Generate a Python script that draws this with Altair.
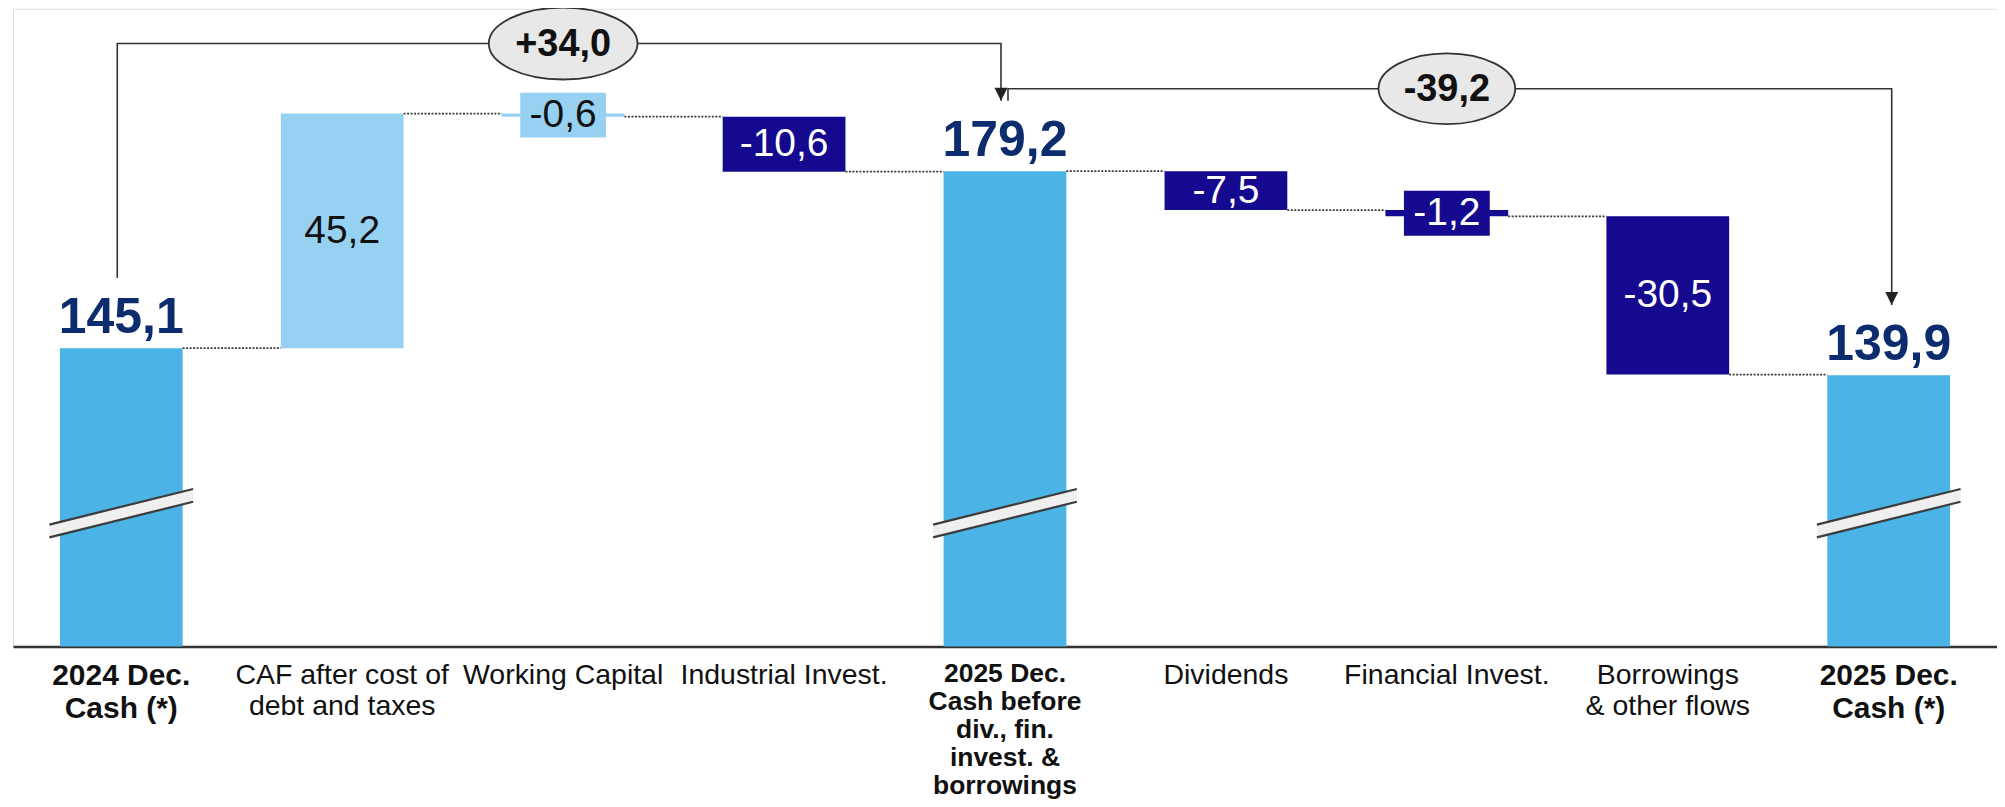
import json
import altair as alt
import pandas as pd

# ---------------- data ----------------
categories = [
    "2024 Dec.|Cash (*)",
    "CAF after cost of|debt and taxes",
    "Working Capital",
    "Industrial Invest.",
    "2025 Dec.|Cash before|div., fin.|invest. &|borrowings",
    "Dividends",
    "Financial Invest.",
    "Borrowings|& other flows",
    "2025 Dec.|Cash (*)",
]
values = [145.1, 45.2, -0.6, -10.6, 179.2, -7.5, -1.2, -30.5, 139.9]
is_total = [True, False, False, False, True, False, False, False, True]
boxed = [False, False, True, False, False, False, True, False, False]

TOTAL_C = "#4BB3E6"
LIGHT_C = "#97D1F1"
DARK_C = "#15098F"
bar_colors = [TOTAL_C, LIGHT_C, LIGHT_C, DARK_C, TOTAL_C, DARK_C, DARK_C, DARK_C, TOTAL_C]
text_colors = ["#0C2C6E", "#111111", "#111111", "#FFFFFF", "#0C2C6E",
               "#FFFFFF", "#FFFFFF", "#FFFFFF", "#0C2C6E"]

axis_floor = 87.6      # value at the broken baseline
axis_top = 210.5
break_level = 113.3    # level of the axis-break marks on the total bars

bracket_from = [0, 4]
bracket_to = [4, 8]
bracket_start = [158.6, 192.8]
bracket_level = [203.8, 195.1]
bracket_end = [192.8, 153.4]
bracket_deltas = [34.0, -39.2]
bracket_label_at = [2, 6]


def fmt(v, sign=False):
    s = f"{v:+.1f}" if sign else f"{v:.1f}"
    return s.replace(".", ",")


rows = []
levels = []
running = 0.0
for i, (cat, v, tot) in enumerate(zip(categories, values, is_total)):
    if tot:
        start, end = 0.0, v
        running = v
    else:
        start, end = running, running + v
        running = end
    levels.append(running)
    rows.append({
        "cat": cat, "start": start, "end": end, "mid": (start + end) / 2,
        "total": tot, "boxed": boxed[i], "label": fmt(v),
        "color": bar_colors[i], "tcolor": text_colors[i],
    })
bars_df = pd.DataFrame(rows)

conn_df = pd.DataFrame({"a": categories[:-1], "b": categories[1:], "lvl": levels[:-1]})

br_rows = []
for k in range(2):
    a = categories[bracket_from[k]]
    b = categories[bracket_to[k]]
    pts = [(a, bracket_start[k]), (a, bracket_level[k]),
           (b, bracket_level[k]), (b, bracket_end[k])]
    for s, (c, y) in enumerate(pts):
        br_rows.append({"bid": k, "seq": s, "cat": c, "y": y})
br_df = pd.DataFrame(br_rows)

arrow_df = pd.DataFrame({
    "bid": [0, 1],
    "cat": [categories[j] for j in bracket_to],
    "y": bracket_end,
})
ell_df = pd.DataFrame({
    "bid": [0, 1],
    "cat": [categories[j] for j in bracket_label_at],
    "y": bracket_level,
    "text": [fmt(d, sign=True) for d in bracket_deltas],
})
break_df = pd.DataFrame({
    "cat": [c for c, t in zip(categories, is_total) if t],
    "y": [break_level] * sum(is_total),
})

# ---------------- scales / axes ----------------
FONT = "Liberation Sans"
total_cats = [categories[0], categories[8]]
test_total = "indexof(" + json.dumps(total_cats) + ", datum.value) >= 0"
test_mid = "datum.value === " + json.dumps(categories[4])

x_scale = alt.Scale(domain=categories, paddingInner=0.4444, paddingOuter=0.2123)
y_scale = alt.Scale(domain=[axis_floor, axis_top], nice=False, zero=False, clamp=True)

x_axis = alt.Axis(
    title=None,
    labelExpr="split(datum.label, '|')",
    labelAngle=0,
    labelAlign="center",
    labelBaseline="top",
    labelPadding=14,
    ticks=False,
    tickSize=0,
    grid=False,
    domainColor="#333333",
    domainWidth=2.5,
    labelColor="#111111",
    labelFont=FONT,
    labelFontSize={"condition": [{"test": test_mid, "value": 26.5},
                                 {"test": test_total, "value": 30}],
                   "value": 28.5},
    labelFontWeight={"condition": {"test": test_total + " || " + test_mid, "value": "bold"},
                     "value": "normal"},
    labelLineHeight={"expr": f"({test_mid}) ? 28 : (({test_total}) ? 33 : 31)"},
    labelLimit=0,
    labelOverlap=False,
)


def xe(field, **kw):
    return alt.X(field, type="nominal", scale=x_scale, axis=x_axis, sort=None, title=None, **kw)


def ye(field):
    return alt.Y(field, type="quantitative", scale=y_scale, axis=None)


# ---------------- layers ----------------
base = alt.Chart(bars_df)

bars = base.mark_bar().encode(
    x=xe("cat"), y=ye("end"), y2="start",
    color=alt.Color("color:N", scale=None),
)

connectors = alt.Chart(conn_df).mark_rule(
    color="#3A3A3A", strokeWidth=1.8, strokeDash=[2, 1.5]
).encode(
    x=xe("a", bandPosition=1),
    x2=alt.X2("b", bandPosition=0),
    y=ye("lvl"),
)

band_path = "M-1,0.159L1,-0.337L1,-0.159L-1,0.337Z"
edge_path = "M-1,0.159L1,-0.337M-1,0.337L1,-0.159"
break_fill = alt.Chart(break_df).mark_point(
    shape=band_path, size=144 ** 2, filled=True, color="#EFEFEF", opacity=1, strokeWidth=0
).encode(x=xe("cat"), y=ye("y"))
break_edges = alt.Chart(break_df).mark_point(
    shape=edge_path, size=144 ** 2, filled=False, stroke="#3C3C3C", strokeWidth=2.2, opacity=1
).encode(x=xe("cat"), y=ye("y"))

box_path = "M-1,-0.523L1,-0.523L1,0.523L-1,0.523Z"
boxes = base.transform_filter("datum.boxed").mark_point(
    shape=box_path, size=86 ** 2, filled=True, opacity=1, strokeWidth=0
).encode(x=xe("cat"), y=ye("mid"), color=alt.Color("color:N", scale=None))

step_labels = base.transform_filter("!datum.total").mark_text(
    font=FONT, fontSize=39, baseline="middle", align="center"
).encode(x=xe("cat"), y=ye("mid"), text="label:N",
         color=alt.Color("tcolor:N", scale=None))

total_labels = base.transform_filter("datum.total").mark_text(
    font=FONT, fontSize=50, fontWeight="bold", baseline="alphabetic", align="center",
    dy=-15, color="#0C2C6E"
).encode(x=xe("cat"), y=ye("end"), text="label:N")

bracket_layers = []
for k, off in [(0, -4), (1, 3)]:
    bracket_layers.append(
        alt.Chart(br_df).transform_filter(f"datum.bid == {k}").mark_line(
            color="#333333", strokeWidth=1.6, xOffset=off
        ).encode(x=xe("cat"), y=ye("y"), order="seq:Q")
    )
    bracket_layers.append(
        alt.Chart(arrow_df).transform_filter(f"datum.bid == {k}").mark_point(
            shape="M-1,-2L1,-2L0,0Z", size=169, filled=True, color="#222222",
            opacity=1, strokeWidth=0, xOffset=off
        ).encode(x=xe("cat"), y=ye("y"))
    )


def ellipse_path(h):
    k = 0.5523
    kh = k * h
    return (f"M-1,0 C-1,{-kh:.4f} {-k},{-h:.4f} 0,{-h:.4f} "
            f"C{k},{-h:.4f} 1,{-kh:.4f} 1,0 "
            f"C1,{kh:.4f} {k},{h:.4f} 0,{h:.4f} "
            f"C{-k},{h:.4f} -1,{kh:.4f} -1,0 Z")


ellipse_layers = []
for k, (w, hgt) in enumerate([(149, 72), (137, 71)]):
    ellipse_layers.append(
        alt.Chart(ell_df).transform_filter(f"datum.bid == {k}").mark_point(
            shape=ellipse_path(hgt / w), size=w ** 2, filled=False, fill="#E8E8E8",
            stroke="#333333", strokeWidth=1.8, opacity=1
        ).encode(x=xe("cat"), y=ye("y"))
    )

ell_text = alt.Chart(ell_df).mark_text(
    font=FONT, fontSize=38, fontWeight="bold", color="#111111",
    baseline="middle", align="center", dy=1
).encode(x=xe("cat"), y=ye("y"), text="text:N")

chart = alt.layer(
    bars, connectors, break_fill, break_edges, boxes, step_labels, total_labels,
    *bracket_layers, *ellipse_layers, ell_text
).properties(
    width=1988,
    height=639,
    padding={"left": 5, "top": 0, "right": 0, "bottom": 152},
    autosize=alt.AutoSizeParams(type="none"),
    background="white",
).configure_view(strokeWidth=0).configure(font=FONT)

chart.save("out.html", embed_options={"renderer": "svg", "actions": False})
